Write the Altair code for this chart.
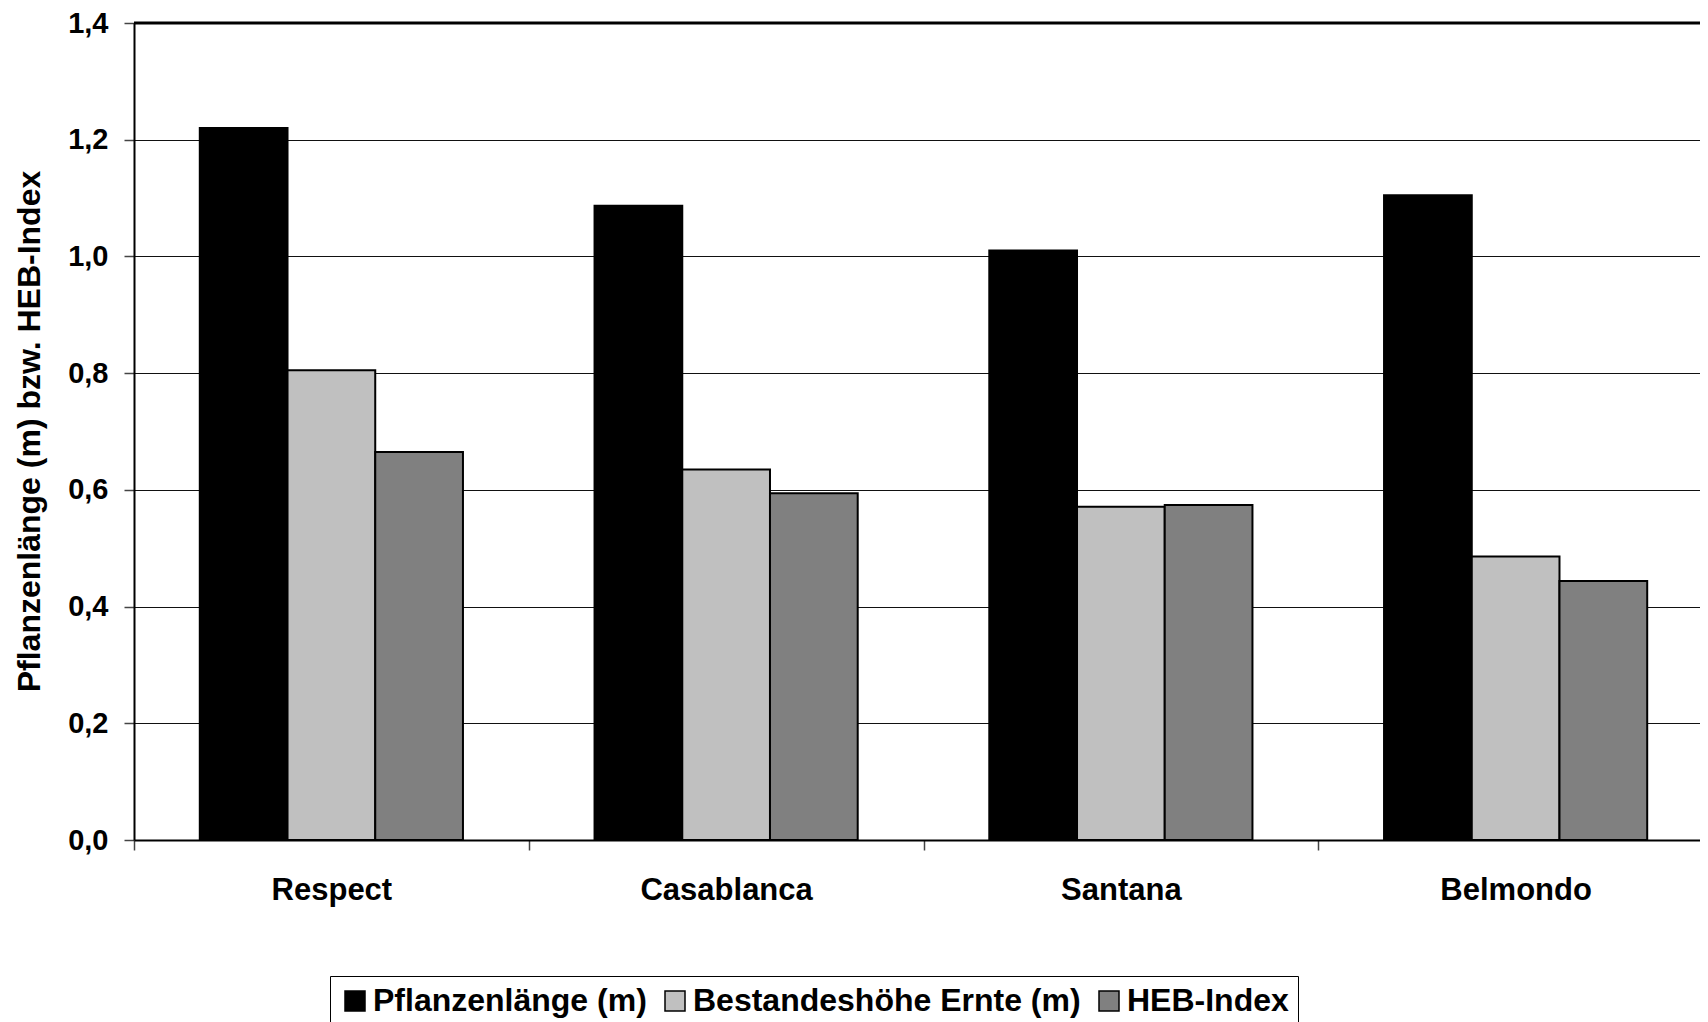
import altair as alt
import pandas as pd

FONT = "Liberation Sans"

CATEGORIES = ["Respect", "Casablanca", "Santana", "Belmondo"]
SERIES = ["Pflanzenlänge (m)", "Bestandeshöhe Ernte (m)", "HEB-Index"]
PFLANZENLAENGE = [1.22, 1.087, 1.01, 1.105]
BESTANDESHOEHE = [0.805, 0.635, 0.571, 0.486]
HEB_INDEX = [0.665, 0.594, 0.574, 0.444]
COLORS = ["#000000", "#C0C0C0", "#808080"]
Y_TICKS = [0.0, 0.2, 0.4, 0.6, 0.8, 1.0, 1.2, 1.4]
Y_TITLE = "Pflanzenlänge (m) bzw. HEB-Index"

rows = []
for series, values in zip(SERIES, [PFLANZENLAENGE, BESTANDESHOEHE, HEB_INDEX]):
    for cat, v in zip(CATEGORIES, values):
        rows.append({"Sorte": cat, "Serie": series, "Wert": v})
df = pd.DataFrame(rows)

y_scale = alt.Scale(domain=[min(Y_TICKS), max(Y_TICKS)], nice=False, zero=True)

y_axis = alt.Axis(
    values=Y_TICKS,
    labelExpr="replace(format(datum.value, '.1f'), '.', ',')",
    labelFont=FONT, labelFontSize=29, labelFontWeight="bold", labelColor="black",
    labelPadding=16, tickSize=10, tickColor="#444", tickWidth=1.5,
    domainColor="black", domainWidth=2,
    grid=True, gridColor="#111", gridWidth=1,
    title=Y_TITLE, titleFont=FONT, titleFontSize=32, titleFontWeight="bold",
    titleColor="black", titleAngle=270, titleAlign="center",
    titleBaseline="alphabetic", titleX=-95, titleY=408,
)

bars = alt.Chart(df).mark_bar(stroke="black", strokeWidth=2).encode(
    x=alt.X(
        "Sorte:N", sort=CATEGORIES,
        scale=alt.Scale(paddingInner=0, paddingOuter=0, range=[0, 1579]),
        axis=alt.Axis(
            title=None, labelAngle=0, labelFont=FONT, labelFontSize=31,
            labelFontWeight="bold", labelColor="black", labelPadding=25,
            tickSize=10, tickBand="extent", tickColor="#444", tickWidth=1.5,
            domainColor="black", domainWidth=2, grid=False,
        ),
    ),
    xOffset=alt.XOffset("Serie:N", sort=SERIES,
                        scale=alt.Scale(paddingInner=0, paddingOuter=0.75)),
    y=alt.Y("Wert:Q", scale=y_scale, axis=y_axis),
    color=alt.Color(
        "Serie:N", sort=SERIES,
        scale=alt.Scale(domain=SERIES, range=COLORS),
        legend=alt.Legend(
            title=None, orient="none", legendX=196, legendY=953,
            direction="horizontal", columns=3,
            symbolType="square", symbolSize=400,
            symbolStrokeColor="black", symbolStrokeWidth=1.5,
            labelFont=FONT, labelFontSize=32, labelFontWeight="bold",
            labelColor="black", labelOffset=2, labelLimit=0,
            columnPadding=12, padding=9,
            strokeColor="black", fillColor="white",
        ),
    ),
)

top_line = alt.Chart(pd.DataFrame({"Wert": [max(Y_TICKS)]})).mark_rule(
    color="black", strokeWidth=3
).encode(y=alt.Y("Wert:Q", scale=y_scale, axis=y_axis))

chart = alt.layer(bars, top_line).properties(
    width=1566,
    height=817,
    autosize=alt.AutoSizeParams(type="none"),
    padding={"left": 126, "top": 15, "right": 0, "bottom": 182},
    background="white",
).configure_view(stroke=None)

chart.save("out.html", embed_options={"renderer": "svg", "actions": False})
